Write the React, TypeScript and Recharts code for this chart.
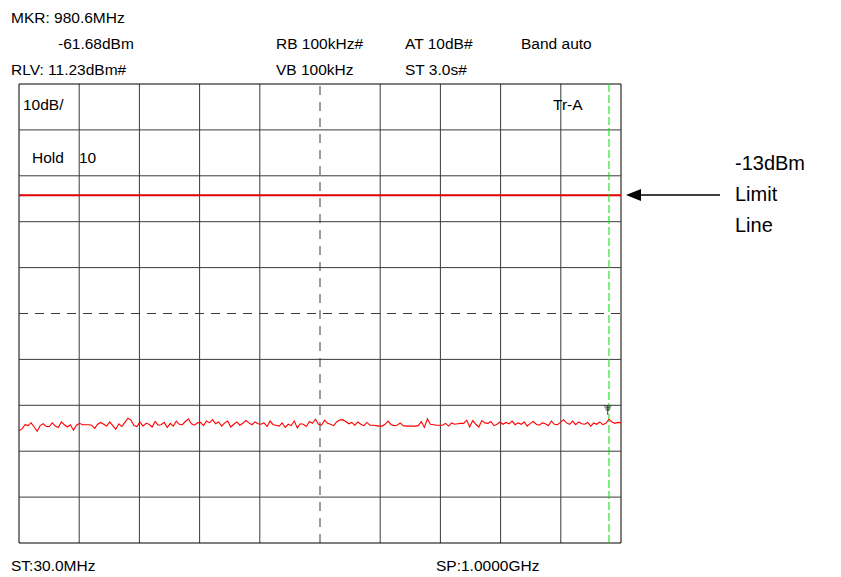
import { LineChart, Line, XAxis, YAxis, ReferenceLine, ReferenceDot } from "recharts"

// sweep settings
const startFreq = 30
const stopFreq = 1000
const refLevel = 11.23
const markerFreq = 980.6
const limitLevel = -13

const gridFreqs = [30, 127, 224, 321, 418, 515, 612, 709, 806, 903, 1000]
const gridLevels = [11.23, 1.23, -8.77, -18.77, -28.77, -38.77, -48.77, -58.77, -68.77, -78.77, -88.77]
const centerFreq = 515
const centerLevel = -38.77

// trace, dBm, one per sweep point
const traceLevels = [
  -64.3, -63.9, -63.0, -63.2, -62.6, -63.5, -64.4, -63.2, -62.8, -63.4, -63.4, -62.6, -63.3, -63.6, -62.4, -63.0, -63.5, -63.0, -64.2, -63.1,
  -62.7, -63.0, -63.0, -63.0, -63.1, -63.8, -62.9, -62.5, -62.9, -63.3, -62.4, -63.2, -64.0, -62.8, -63.4, -62.5, -61.6, -62.0, -63.2, -63.4,
  -62.4, -63.3, -62.7, -62.9, -63.5, -62.3, -63.1, -63.0, -62.5, -63.6, -62.7, -63.3, -62.2, -62.9, -63.0, -62.3, -61.7, -62.8, -63.1, -62.6,
  -62.5, -63.2, -62.2, -62.6, -61.9, -62.8, -62.4, -63.3, -62.6, -62.2, -63.5, -62.9, -62.4, -63.1, -62.7, -62.1, -62.6, -63.0, -62.4, -62.8,
  -62.9, -62.6, -63.4, -62.2, -63.0, -63.1, -63.3, -62.6, -63.6, -62.9, -63.2, -62.2, -63.7, -62.8, -62.9, -63.4, -62.3, -62.7, -61.8, -62.9,
  -63.1, -62.0, -62.7, -62.9, -63.2, -62.4, -62.0, -61.9, -62.3, -62.8, -62.5, -63.1, -62.4, -62.9, -63.2, -62.5, -63.1, -63.1, -63.2, -63.3,
  -63.3, -62.9, -62.2, -63.0, -63.2, -63.1, -62.6, -63.2, -63.3, -63.3, -63.3, -63.3, -63.2, -62.3, -63.6, -61.7, -62.9, -63.0, -63.1, -63.1,
  -63.1, -62.7, -63.3, -62.6, -62.9, -62.8, -62.7, -62.7, -62.0, -63.5, -62.1, -62.9, -63.5, -62.1, -62.6, -62.7, -62.3, -63.2, -62.9, -62.4,
  -62.9, -62.5, -62.8, -62.2, -63.0, -62.6, -62.9, -62.4, -63.3, -62.7, -62.3, -62.9, -63.1, -62.6, -62.8, -63.2, -62.2, -62.9, -63.0, -62.5,
  -61.9, -62.6, -62.9, -62.2, -63.0, -62.4, -62.8, -62.9, -62.5, -63.3, -62.6, -62.9, -62.4, -63.0, -62.7, -61.8, -62.4, -62.7, -62.5, -62.6,
]

const traceData = traceLevels.map((level, i) => ({
  freq: startFreq + (i * (stopFreq - startFreq)) / (traceLevels.length - 1),
  level,
}))

const font = "'Liberation Sans', Arial, sans-serif"

function MarkerGlyph(props: any) {
  const { cx, cy } = props
  return (
    <g stroke="#333" strokeWidth={1}>
      <line x1={cx - 4} x2={cx + 4} y1={cy - 6} y2={cy - 6} />
      <line x1={cx - 3} x2={cx + 3} y1={cy - 4} y2={cy - 4} />
      <line x1={cx - 2} x2={cx + 2} y1={cy - 2} y2={cy - 2} />
      <line x1={cx} x2={cx} y1={cy - 6} y2={cy + 3} />
    </g>
  )
}

export default function App() {
  const edgeF = (f: number) => f === startFreq || f === stopFreq
  const edgeL = (l: number) => l === gridLevels[0] || l === gridLevels[gridLevels.length - 1]
  return (
    <div style={{ position: "absolute", left: 0, top: 0, width: 841, height: 577, background: "#fff" }}>
      <LineChart width={841} height={577} data={traceData} margin={{ top: 84, right: 220, bottom: 34, left: 19 }}>
        <XAxis dataKey="freq" type="number" domain={[startFreq, stopFreq]} allowDataOverflow hide />
        <YAxis type="number" domain={[refLevel - 100, refLevel]} allowDataOverflow hide />
        {gridFreqs.map((f) => (
          <ReferenceLine
            key={`vx-${f}`}
            x={f}
            stroke={edgeF(f) ? "#000" : "#3a3a3a"}
            strokeDasharray={f === centerFreq ? "9 7" : undefined}
          />
        ))}
        {gridLevels.map((l) => (
          <ReferenceLine
            key={`hy-${l}`}
            y={l}
            stroke={edgeL(l) ? "#000" : "#3a3a3a"}
            strokeDasharray={l === centerLevel ? "9 7" : undefined}
          />
        ))}
        <ReferenceLine y={limitLevel} stroke="#e00000" strokeWidth={2} />
        <ReferenceLine x={markerFreq} stroke="#00e000" strokeDasharray="8 3" />
        <Line
          dataKey="level"
          stroke="#ff0000"
          strokeWidth={1.1}
          dot={false}
          isAnimationActive={false}
        />
        <ReferenceDot x={markerFreq - 2} y={-60.2} shape={MarkerGlyph} />
      </LineChart>
      <svg
        width={841}
        height={577}
        style={{ position: "absolute", left: 0, top: 0, pointerEvents: "none" }}
        fontFamily={font}
        fontSize={15.5}
        fill="#000"
      >
        <text x={11} y={23}>MKR:  980.6MHz</text>
        <text x={58} y={49}>-61.68dBm</text>
        <text x={276} y={49}>RB 100kHz#</text>
        <text x={405} y={49}>AT 10dB#</text>
        <text x={521} y={49}>Band auto</text>
        <text x={11} y={75}>RLV: 11.23dBm#</text>
        <text x={276} y={75}>VB 100kHz</text>
        <text x={405} y={75}>ST 3.0s#</text>
        <text x={23} y={110}>10dB/</text>
        <text x={553} y={110}>Tr-A</text>
        <text x={32} y={163}>Hold</text>
        <text x={79} y={163}>10</text>
        <text x={11} y={571}>ST:30.0MHz</text>
        <text x={436} y={571}>SP:1.0000GHz</text>
        <g fontSize={20}>
          <text x={735} y={170}>-13dBm</text>
          <text x={735} y={201}>Limit</text>
          <text x={735} y={232}>Line</text>
        </g>
        <line x1={638} x2={720} y1={195} y2={195} stroke="#000" strokeWidth={1.5} />
        <polygon points="626,195 641,189 641,201" fill="#000" />
      </svg>
    </div>
  )
}
